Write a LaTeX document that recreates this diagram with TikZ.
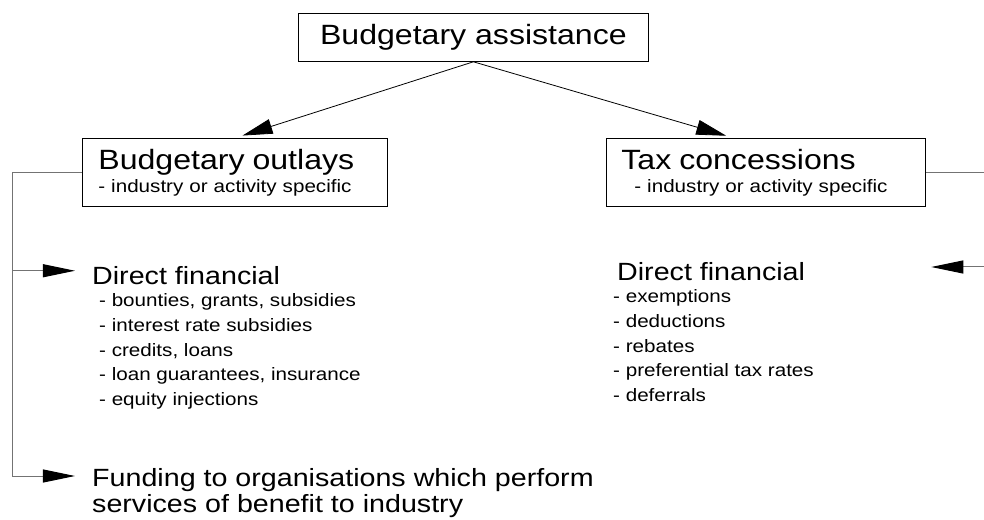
\documentclass[tikz,border=0pt]{standalone}
\usepackage{fontspec}
\setmainfont{Liberation Sans}[FakeStretch=1.15]
\usetikzlibrary{arrows.meta,positioning,calc}

\definecolor{railgray}{gray}{0.45}

\begin{document}
\begin{tikzpicture}[
    x=1bp, y=-1bp,
    every node/.style={inner sep=0pt},
    bigfont/.style={font=\fontsize{28}{30}\selectfont},
    midfont/.style={font=\fontsize{25}{26}\selectfont},
    smallfont/.style={font=\fontsize{18}{25}\selectfont},
    box/.style={draw, line width=0.8bp, anchor=north west, align=left},
    arrow/.style={-{Triangle[length=30bp,width=15bp]}, line width=0.8bp, shorten >=8bp},
    rail/.style={draw=railgray, line width=1bp},
    railarrow/.style={rail, -{Triangle[length=32bp,width=13bp,color=black]}}
]
\useasboundingbox (0,0) rectangle (984,520);

% top of the tree
\node[box, bigfont, align=center, minimum width=350bp, minimum height=48bp] (assist) at (298,13) {Budgetary assistance};

\node[box, font=\fontsize{18}{23}\selectfont, text width=273bp, inner xsep=16bp, minimum height=68bp] (outlays) at (82,138)
    {{\fontsize{28}{23}\selectfont Budgetary\hspace{2bp} outlays}\\- industry or activity specific};
\node[box, font=\fontsize{18}{23}\selectfont, text width=289bp, inner xsep=15bp, minimum height=68bp] (taxcon) at (606,138)
    {{\fontsize{28}{23}\selectfont Tax\hspace{2bp} concessions}\\\hspace*{13bp}- industry or activity specific};

\draw[arrow] (assist.south) -- (outlays.north);
\draw[arrow] (assist.south) -- ($(taxcon.north west)!0.4!(taxcon.north east)$);

% budgetary outlays side
\node[midfont, anchor=base west] (directL) at (92,285) {Direct financial};
\node[smallfont, anchor=north west, align=left] (itemsL) at ([xshift=7bp,yshift=-8bp]directL.base west)
    {- bounties, grants, subsidies\\- interest rate subsidies\\- credits, loans\\- loan guarantees, insurance\\- equity injections};
\node[midfont, anchor=north west, align=left] (funding) at (92,468)
    {Funding to organisations which perform\\services of benefit to industry};

\coordinate (lrail) at (12,476);
\draw[rail] (outlays.west) -| (lrail);
\draw[railarrow, shorten >=17bp] ([yshift=-4bp]lrail |- directL.north) -- ([yshift=-4bp]directL.north west);
\draw[railarrow, shorten >=17bp] (lrail) -- (lrail -| funding.west);

% tax concessions side
\node[midfont, anchor=base west] (directR) at (617,281) {Direct financial};
\node[smallfont, anchor=north west, align=left] (itemsR) at ([xshift=-4bp,yshift=-8bp]directR.base west)
    {- exemptions\\- deductions\\- rebates\\- preferential tax rates\\- deferrals};

\coordinate (redge) at (984,267);
\draw[rail] (taxcon.east) -- (taxcon.east -| redge);
\draw[railarrow, shorten >=126bp] (redge) -- (redge -| directR.east);
\end{tikzpicture}
\end{document}
